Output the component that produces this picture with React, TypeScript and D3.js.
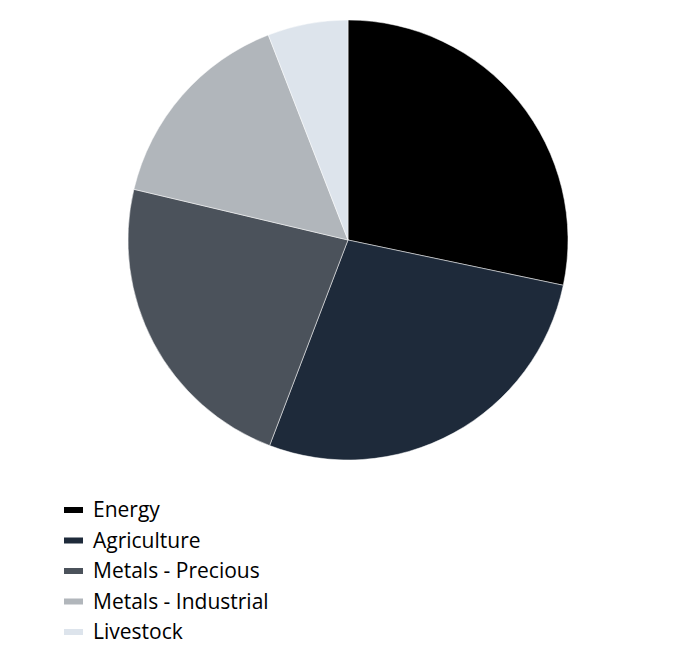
import React, { useEffect, useRef } from "react";
import * as d3 from "d3";

const categories = ["Energy", "Agriculture", "Metals - Precious", "Metals - Industrial", "Livestock"];
const shares = [28.3, 27.5, 22.9, 15.4, 5.9];
const colors = ["#000000", "#1e2a3a", "#4b525b", "#b1b6bb", "#dde4ec"];

const App = () => {
  const ref = useRef<SVGSVGElement>(null);

  useEffect(() => {
    draw();
  });

  const draw = () => {
    const width = 696;
    const height = 648;
    const radius = 220;

    const svg = d3.select(ref.current);
    svg.selectAll("*").remove();

    const data = categories.map((c, i) => ({ name: c, value: shares[i] }));

    const pie = d3
      .pie<{ name: string; value: number }>()
      .sort(null)
      .value((d) => d.value);

    const arc = d3
      .arc<d3.PieArcDatum<{ name: string; value: number }>>()
      .innerRadius(0)
      .outerRadius(radius);

    const g = svg.append("g").attr("transform", `translate(348,240)`);

    g.selectAll("path")
      .data(pie(data))
      .enter()
      .append("path")
      .attr("d", arc)
      .attr("fill", (d, i) => colors[i])
      .attr("stroke", "#ffffff")
      .attr("stroke-width", 0.5);

    const color = d3.scaleOrdinal<string, string>().domain(categories).range(colors);
    const y = d3.scalePoint().domain(categories).range([510, 632]);

    const legend = svg
      .append("g")
      .selectAll("g")
      .data(categories)
      .enter()
      .append("g")
      .attr("transform", (d) => `translate(64,${y(d)})`);

    legend
      .append("rect")
      .attr("x", 0)
      .attr("y", -3)
      .attr("width", 19)
      .attr("height", 6)
      .attr("fill", (d) => color(d));

    legend
      .append("text")
      .attr("x", 29)
      .attr("y", 0)
      .attr("dy", "0.35em")
      .attr("font-family", "'Open Sans', sans-serif")
      .attr("font-size", 21)
      .attr("fill", "#000000")
      .text((d) => d);

    svg.attr("width", width).attr("height", height);
  };

  return (
    <div style={{ position: "absolute", left: 0, top: 0 }}>
      <svg ref={ref} width={696} height={648} style={{ display: "block" }} />
    </div>
  );
};

export default App;
